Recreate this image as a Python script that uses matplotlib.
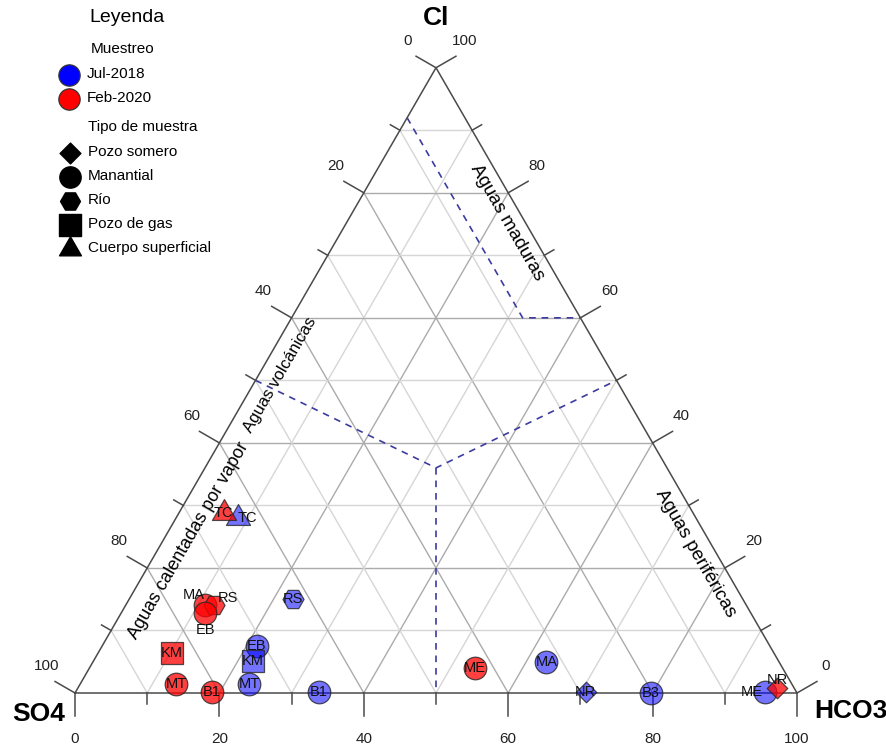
import matplotlib.pyplot as plt
import numpy as np
from matplotlib.path import Path

plt.rcParams["font.family"] = ["Liberation Sans", "DejaVu Sans"]

# Jul-2018 campaign: percentages of SO4, HCO3 and Cl
jul_labels = ["TC", "RS", "EB", "KM", "MT", "B1", "MA", "NR", "B3", "ME"]
jul_types = ["Cuerpo superficial", "Río", "Manantial", "Pozo de gas", "Manantial",
             "Manantial", "Manantial", "Pozo somero", "Manantial", "Manantial"]
jul_so4 = [63.4, 62.3, 71.1, 72.8, 75.2, 66.1, 32.2, 29.2, 20.2, 4.4]
jul_hco3 = [8.6, 22.7, 21.4, 22.1, 23.4, 33.7, 62.8, 70.7, 79.8, 95.5]
jul_cl = [28.0, 15.0, 7.5, 5.1, 1.4, 0.2, 5.0, 0.1, 0.0, 0.1]

# Feb-2020 campaign
feb_labels = ["TC", "MA", "RS", "EB", "KM", "MT", "B1", "ME", "NR"]
feb_types = ["Cuerpo superficial", "Manantial", "Río", "Manantial", "Pozo de gas",
             "Manantial", "Manantial", "Manantial", "Pozo somero"]
feb_so4 = [65.0, 74.9, 73.8, 75.6, 83.4, 85.3, 81.0, 42.6, 2.4]
feb_hco3 = [6.2, 11.0, 12.2, 11.6, 10.2, 13.3, 18.9, 53.4, 96.8]
feb_cl = [28.8, 14.1, 14.0, 12.8, 6.4, 1.4, 0.1, 4.0, 0.8]

tick_values = [0, 20, 40, 60, 80, 100]
sample_types = ["Pozo somero", "Manantial", "Río", "Pozo de gas", "Cuerpo superficial"]

# region boundaries (SO4, HCO3, Cl)
mature_line = [(8, 0, 92), (8, 32, 60), (0, 40, 60)]
center_pt = (32, 32, 36)
volcanic_line = [(50, 0, 50), center_pt, (0, 50, 50)]
peripheral_line = [center_pt, (50, 50, 0)]

PX = 722.0
SQ3 = np.sqrt(3) / 2

tri = Path([(0, 1), (-0.866, -0.5), (0.866, -0.5), (0, 1)],
           [Path.MOVETO, Path.LINETO, Path.LINETO, Path.CLOSEPOLY])
marker_of = {"Pozo somero": "D", "Manantial": "o", "Río": "H",
             "Pozo de gas": "s", "Cuerpo superficial": tri}
size_of = {"Pozo somero": 110, "Manantial": 265, "Río": 230,
           "Pozo de gas": 250, "Cuerpo superficial": 400}
legend_size = {"Pozo somero": 112, "Manantial": 235, "Río": 205,
               "Pozo de gas": 240, "Cuerpo superficial": 330}

# label nudges in pixels (right, up)
nudge = {("jul", "TC"): (9, 0), ("jul", "ME"): (-13, 0),
         ("feb", "MA"): (-12, 10), ("feb", "RS"): (14, 7),
         ("feb", "EB"): (1, -17), ("feb", "NR"): (1, 8)}


def tern(so4, hco3, cl):
    tot = so4 + hco3 + cl
    h = np.asarray(hco3) / tot
    c = np.asarray(cl) / tot
    return h + c / 2, c * SQ3


def pix(px, py):
    return (px - 75) / PX, (693 - py) / PX


fig = plt.figure(figsize=(8.87, 7.47), dpi=100)
ax = fig.add_axes([0, 0, 1, 1])
ax.set_xlim(-75 / PX, 812 / PX)
ax.set_ylim(-54 / PX, 693 / PX)
ax.axis("off")

# grid
for v in range(10, 100, 10):
    col = "#ababab" if v % 20 == 0 else "#d6d6d6"
    for a, b in [((100 - v, 0, v), (0, 100 - v, v)),
                 ((100 - v, v, 0), (0, v, 100 - v)),
                 ((v, 100 - v, 0), (v, 0, 100 - v))]:
        x0, y0 = tern(*a)
        x1, y1 = tern(*b)
        ax.plot([x0, x1], [y0, y1], color=col, lw=1.0, zorder=1)

# boundaries between water types
for line in [mature_line, volcanic_line, peripheral_line]:
    xs, ys = zip(*[tern(*p) for p in line])
    ax.plot(xs, ys, color="#3c3ca0", lw=1.2, ls=(0, (4, 3.5)), zorder=2)

# frame
xs, ys = zip(*[tern(*p) for p in [(100, 0, 0), (0, 100, 0), (0, 0, 100), (100, 0, 0)]])
ax.plot(xs, ys, color="#4a4a4a", lw=1.1, zorder=3)

# ticks and tick labels
tc = "#4a4a4a"
for v in range(0, 101, 10):
    ln = (23 if v % 20 == 0 else 11) / PX
    x, y = tern(100 - v, v, 0)
    ax.plot([x, x], [y, y - ln], color=tc, lw=1.1, zorder=3)
    if v in tick_values:
        ax.text(x, y - 46 / PX, str(v), ha="center", va="center", fontsize=11, color="#222222")
    x, y = tern(v, 0, 100 - v)
    ax.plot([x, x - 0.866 * ln], [y, y + 0.5 * ln], color=tc, lw=1.1, zorder=3)
    if v in tick_values:
        ax.text(x - 28 / PX, y + 27 / PX, str(v), ha="center", va="center", fontsize=11, color="#222222")
    x, y = tern(0, 100 - v, v)
    ax.plot([x, x + 0.866 * ln], [y, y + 0.5 * ln], color=tc, lw=1.1, zorder=3)
    if v in tick_values:
        ax.text(x + 29 / PX, y + 27 / PX, str(v), ha="center", va="center", fontsize=11, color="#222222")

# vertex titles
ax.text(*pix(436, 18), "Cl", ha="center", va="center", fontsize=19, fontweight="bold")
ax.text(*pix(39, 714), "SO4", ha="center", va="center", fontsize=19, fontweight="bold")
ax.text(*pix(851, 711), "HCO3", ha="center", va="center", fontsize=19, fontweight="bold")

# region names
ax.text(*pix(507, 223), "Aguas maduras", rotation=-60, ha="center", va="center", fontsize=13.5)
ax.text(*pix(695, 553), "Aguas periféricas", rotation=-60, ha="center", va="center", fontsize=13.5)
ax.text(*pix(280, 375), "Aguas volcánicas", rotation=60, ha="center", va="center", fontsize=12)
ax.text(*pix(189, 541), "Aguas calentadas por vapor", rotation=60, ha="center", va="center", fontsize=13)

# samples
series = [("jul", jul_labels, jul_types, jul_so4, jul_hco3, jul_cl, (0.0, 0.0, 1.0, 0.55)),
          ("feb", feb_labels, feb_types, feb_so4, feb_hco3, feb_cl, (1.0, 0.0, 0.0, 0.75))]
for key, labels, types, so4, hco3, cl, face in series:
    for lab, typ, s, h, c in zip(labels, types, so4, hco3, cl):
        x, y = tern(s, h, c)
        ax.scatter(x, y, s=size_of[typ], marker=marker_of[typ], facecolor=face,
                   edgecolor=(0.15, 0.15, 0.15, 0.8), linewidth=0.9, zorder=4)
        dx, dy = nudge.get((key, lab), (0, 0))
        ax.text(x + dx / PX, y + dy / PX, lab, ha="center", va="center",
                fontsize=10.5, color="#111111", zorder=5)

# legend
ax.text(*pix(127, 18), "Leyenda", ha="center", va="center", fontsize=14)
ax.text(*pix(123, 49), "Muestreo", ha="center", va="center", fontsize=11)
for py, face, name in [(75, "#0000ff", "Jul-2018"), (99, "#ff0000", "Feb-2020")]:
    ax.scatter(*pix(69, py), s=235, marker="o", facecolor=face, edgecolor="#333333", linewidth=0.9)
    ax.text(*pix(87, py - 1), name, ha="left", va="center", fontsize=11)
ax.text(*pix(143, 127), "Tipo de muestra", ha="center", va="center", fontsize=11)
for i, typ in enumerate(sample_types):
    py = 153 + 24 * i
    ax.scatter(*pix(70, py), s=legend_size[typ], marker=marker_of[typ], color="black")
    ax.text(*pix(88, py - 1), typ, ha="left", va="center", fontsize=11)

fig.savefig("out.png", dpi=100)
